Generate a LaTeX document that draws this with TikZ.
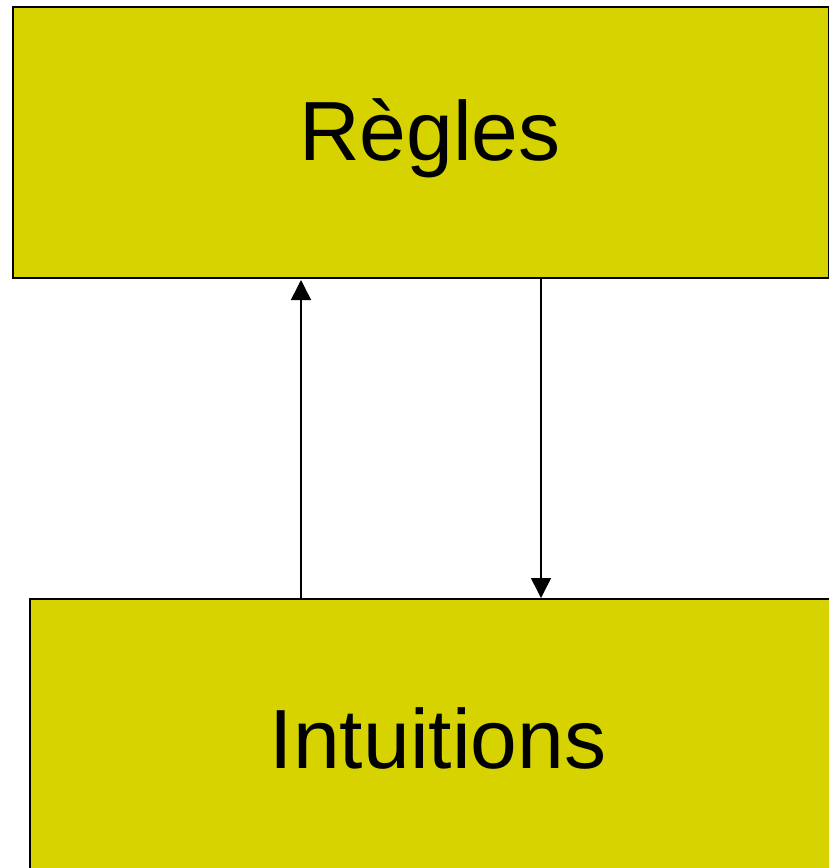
\documentclass[tikz,border=0pt]{standalone}
\usepackage{fontspec}
\setmainfont{Liberation Sans}
\usetikzlibrary{arrows.meta}
\definecolor{boxfill}{RGB}{214,211,0}
\tikzset{
  box/.style={draw=black, line width=2pt, fill=boxfill, inner sep=0pt, anchor=north west},
  lbl/.style={font=\fontsize{84}{100}\selectfont, anchor=base, inner sep=0pt},
  conn/.style={line width=1.5pt, -{Triangle[width=20pt,length=20pt]}}
}
\begin{document}
\begin{tikzpicture}[x=1pt,y=-1pt]
\useasboundingbox (0,0) rectangle (829,868);
\clip (0,0) rectangle (829,868);
\fill[white] (0,0) rectangle (829,868);
\node[box, minimum width=816pt, minimum height=271pt] (top) at (12,6) {};
\node[box, minimum width=830pt, minimum height=300pt] (bot) at (29,598) {};
\node[lbl] (t1) at (430,160) {Règles};
\node[lbl] (t2) at (438,768) {Intuitions};
\coordinate (cu) at (301,0);
\coordinate (cd) at (541,0);
\draw[conn] (cu |- bot.north) -- ([yshift=-1pt]cu |- top.south);
\draw[conn] (cd |- top.south) -- ([yshift=0pt]cd |- bot.north);
\end{tikzpicture}
\end{document}
